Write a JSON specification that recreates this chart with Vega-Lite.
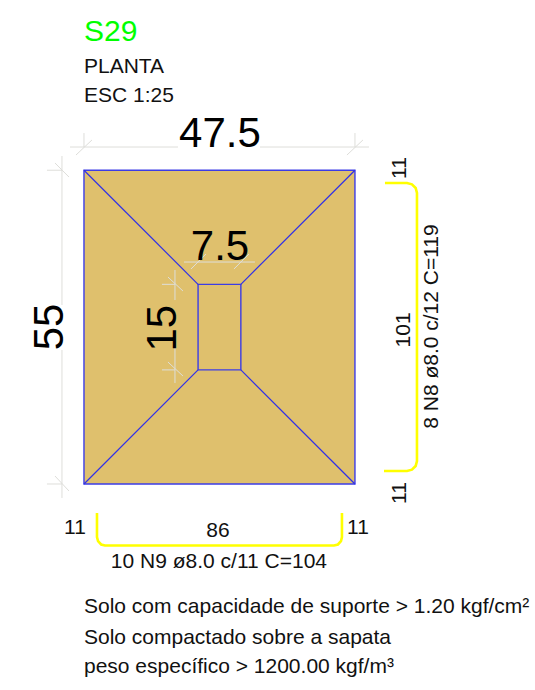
{"$schema":"https://vega.github.io/schema/vega-lite/v6.json","width":535,"height":690,"padding":0,"autosize":{"type":"fit","contains":"padding"},"background":"white","config":{"view":{"stroke":null},"text":{"font":"Liberation Sans"}},
"datasets":{"rects":[{"name":"sapata","x":0,"x2":47.5,"y":0,"y2":55},{"name":"colarinho","x":20,"x2":27.5,"y":20,"y2":35}],
"lines":[
{"id":"d1","kind":"edge","seq":1,"x":0,"y":0},{"id":"d1","kind":"edge","seq":2,"x":20,"y":20},
{"id":"d2","kind":"edge","seq":1,"x":47.5,"y":0},{"id":"d2","kind":"edge","seq":2,"x":27.5,"y":20},
{"id":"d3","kind":"edge","seq":1,"x":0,"y":55},{"id":"d3","kind":"edge","seq":2,"x":20,"y":35},
{"id":"d4","kind":"edge","seq":1,"x":47.5,"y":55},{"id":"d4","kind":"edge","seq":2,"x":27.5,"y":35},
{"id":"t1","kind":"dim","seq":1,"x":-2.45,"y":59.07},{"id":"t1","kind":"dim","seq":2,"x":16.48,"y":59.07},
{"id":"t2","kind":"dim","seq":1,"x":30.85,"y":59.07},{"id":"t2","kind":"dim","seq":2,"x":49.96,"y":59.07},
{"id":"t3","kind":"dim","seq":1,"x":0,"y":61.52},{"id":"t3","kind":"dim","seq":2,"x":0,"y":59.07},
{"id":"t4","kind":"dim","seq":1,"x":47.5,"y":61.52},{"id":"t4","kind":"dim","seq":2,"x":47.5,"y":59.07},
{"id":"t5","kind":"dim","seq":1,"x":1.4,"y":60.3},{"id":"t5","kind":"dim","seq":2,"x":-1.4,"y":57.67},
{"id":"t6","kind":"dim","seq":1,"x":48.9,"y":60.3},{"id":"t6","kind":"dim","seq":2,"x":46.1,"y":57.67},
{"id":"l1","kind":"dim","seq":1,"x":-3.86,"y":57.49},{"id":"l1","kind":"dim","seq":2,"x":-3.86,"y":31.38},
{"id":"l2","kind":"dim","seq":1,"x":-3.86,"y":23.49},{"id":"l2","kind":"dim","seq":2,"x":-3.86,"y":-2.45},
{"id":"l3","kind":"dim","seq":1,"x":-6.49,"y":55},{"id":"l3","kind":"dim","seq":2,"x":-3.86,"y":55},
{"id":"l4","kind":"dim","seq":1,"x":-6.49,"y":0},{"id":"l4","kind":"dim","seq":2,"x":-3.86,"y":0},
{"id":"l5","kind":"dim","seq":1,"x":-5.08,"y":56.27},{"id":"l5","kind":"dim","seq":2,"x":-2.63,"y":53.81},
{"id":"l6","kind":"dim","seq":1,"x":-5.08,"y":1.4},{"id":"l6","kind":"dim","seq":2,"x":-2.63,"y":-1.23},
{"id":"i1","kind":"dim","seq":1,"x":17.53,"y":38.91},{"id":"i1","kind":"dim","seq":2,"x":29.97,"y":38.91},
{"id":"i2","kind":"dim","seq":1,"x":21.38,"y":40.32},{"id":"i2","kind":"dim","seq":2,"x":18.76,"y":37.69},
{"id":"i3","kind":"dim","seq":1,"x":28.92,"y":40.32},{"id":"i3","kind":"dim","seq":2,"x":26.29,"y":37.69},
{"id":"v1","kind":"dim","seq":1,"x":15.95,"y":37.51},{"id":"v1","kind":"dim","seq":2,"x":15.95,"y":32.25},
{"id":"v2","kind":"dim","seq":1,"x":15.95,"y":24.01},{"id":"v2","kind":"dim","seq":2,"x":15.95,"y":17.7},
{"id":"v3","kind":"dim","seq":1,"x":13.67,"y":35},{"id":"v3","kind":"dim","seq":2,"x":15.95,"y":35},
{"id":"v4","kind":"dim","seq":1,"x":13.67,"y":20},{"id":"v4","kind":"dim","seq":2,"x":15.95,"y":20},
{"id":"v5","kind":"dim","seq":1,"x":14.72,"y":36.28},{"id":"v5","kind":"dim","seq":2,"x":17.35,"y":33.83},
{"id":"v6","kind":"dim","seq":1,"x":14.72,"y":21.38},{"id":"v6","kind":"dim","seq":2,"x":17.35,"y":18.93},
{"id":"n8","kind":"bar","seq":1,"x":52.76,"y":52.76},{"id":"n8","kind":"bar","seq":2,"x":56.62,"y":52.76},{"id":"n8","kind":"bar","seq":3,"x":57.49,"y":52.53},{"id":"n8","kind":"bar","seq":4,"x":58.14,"y":51.88},{"id":"n8","kind":"bar","seq":5,"x":58.37,"y":51.01},{"id":"n8","kind":"bar","seq":6,"x":58.37,"y":4.03},{"id":"n8","kind":"bar","seq":7,"x":58.14,"y":3.16},{"id":"n8","kind":"bar","seq":8,"x":57.49,"y":2.51},{"id":"n8","kind":"bar","seq":9,"x":56.62,"y":2.28},{"id":"n8","kind":"bar","seq":10,"x":52.59,"y":2.28},
{"id":"n9","kind":"bar","seq":1,"x":2.28,"y":-5.08},{"id":"n9","kind":"bar","seq":2,"x":2.28,"y":-9.29},{"id":"n9","kind":"bar","seq":3,"x":2.47,"y":-10.03},{"id":"n9","kind":"bar","seq":4,"x":3.01,"y":-10.6},{"id":"n9","kind":"bar","seq":5,"x":3.68,"y":-10.78},{"id":"n9","kind":"bar","seq":6,"x":43.82,"y":-10.78},{"id":"n9","kind":"bar","seq":7,"x":44.52,"y":-10.6},{"id":"n9","kind":"bar","seq":8,"x":45.05,"y":-10.03},{"id":"n9","kind":"bar","seq":9,"x":45.22,"y":-9.29},{"id":"n9","kind":"bar","seq":10,"x":45.22,"y":-5.08}
],
"labels":[
{"text":"S29","role":"title","x":0,"y":77.66},
{"text":"PLANTA","role":"note","x":0,"y":72.1},
{"text":"ESC 1:25","role":"note","x":0,"y":67.0},
{"text":"Solo com capacidade de suporte > 1.20 kgf/cm²","role":"note","x":0,"y":-22.56},
{"text":"Solo compactado sobre a sapata","role":"note","x":0,"y":-28.1},
{"text":"peso específico > 1200.00 kgf/m³","role":"note","x":0,"y":-33.18},
{"text":"47.5","role":"big","x":23.84,"y":59.07},
{"text":"7.5","role":"big","x":23.84,"y":39.26},
{"text":"55","role":"bigv","x":-3.68,"y":27.52},
{"text":"15","role":"bigv","x":16.07,"y":27.3},
{"text":"11","role":"smallv","x":56.44,"y":55.39},
{"text":"11","role":"smallv","x":56.44,"y":-1.58},
{"text":"101","role":"smallv","x":57.14,"y":27.0},
{"text":"8 N8 ø8.0 c/12 C=119","role":"smallv","x":62.05,"y":27.6},
{"text":"86","role":"small","x":23.5,"y":-9.34},
{"text":"10 N9 ø8.0 c/11 C=104","role":"small","x":23.66,"y":-14.72},
{"text":"11","role":"small","x":-1.58,"y":-8.76},
{"text":"11","role":"small","x":48.03,"y":-8.76}
]},
"encoding":{"x":{"field":"x","type":"quantitative","axis":null,"scale":{"domain":[-14.72,79.06],"zero":false,"nice":false}},"y":{"field":"y","type":"quantitative","axis":null,"scale":{"domain":[-36.11,84.84],"zero":false,"nice":false}}},
"layer":[
{"data":{"name":"rects"},"mark":{"type":"rect","fill":"#DFC06D","stroke":"#3C3CE6","strokeWidth":1.4},"encoding":{"x2":{"field":"x2"},"y2":{"field":"y2"}}},
{"data":{"name":"lines"},"transform":[{"filter":"datum.kind==='edge'"}],"mark":{"type":"line","stroke":"#3030E8","strokeWidth":1.2},"encoding":{"detail":{"field":"id"},"order":{"field":"seq"}}},
{"data":{"name":"lines"},"transform":[{"filter":"datum.kind==='dim'"}],"mark":{"type":"line","stroke":"#DEDEDA","strokeWidth":1},"encoding":{"detail":{"field":"id"},"order":{"field":"seq"}}},
{"data":{"name":"lines"},"transform":[{"filter":"datum.kind==='bar'"}],"mark":{"type":"line","stroke":"#FFFF00","strokeWidth":2.6},"encoding":{"detail":{"field":"id"},"order":{"field":"seq"}}},
{"data":{"name":"labels"},"transform":[{"filter":"datum.role==='title'"}],"mark":{"type":"text","align":"left","baseline":"alphabetic","fontSize":30,"fill":"#00FF00"},"encoding":{"text":{"field":"text"}}},
{"data":{"name":"labels"},"transform":[{"filter":"datum.role==='note'"}],"mark":{"type":"text","align":"left","baseline":"alphabetic","fontSize":21,"fill":"#111111"},"encoding":{"text":{"field":"text"}}},
{"data":{"name":"labels"},"transform":[{"filter":"datum.role==='big'"}],"mark":{"type":"text","align":"center","baseline":"alphabetic","fontSize":42,"fill":"#000000"},"encoding":{"text":{"field":"text"}}},
{"data":{"name":"labels"},"transform":[{"filter":"datum.role==='bigv'"}],"mark":{"type":"text","align":"center","baseline":"alphabetic","fontSize":42,"angle":270,"fill":"#000000"},"encoding":{"text":{"field":"text"}}},
{"data":{"name":"labels"},"transform":[{"filter":"datum.role==='small'"}],"mark":{"type":"text","align":"center","baseline":"alphabetic","fontSize":21,"fill":"#111111"},"encoding":{"text":{"field":"text"}}},
{"data":{"name":"labels"},"transform":[{"filter":"datum.role==='smallv'"}],"mark":{"type":"text","align":"center","baseline":"alphabetic","fontSize":21,"angle":270,"fill":"#111111"},"encoding":{"text":{"field":"text"}}}
]}
